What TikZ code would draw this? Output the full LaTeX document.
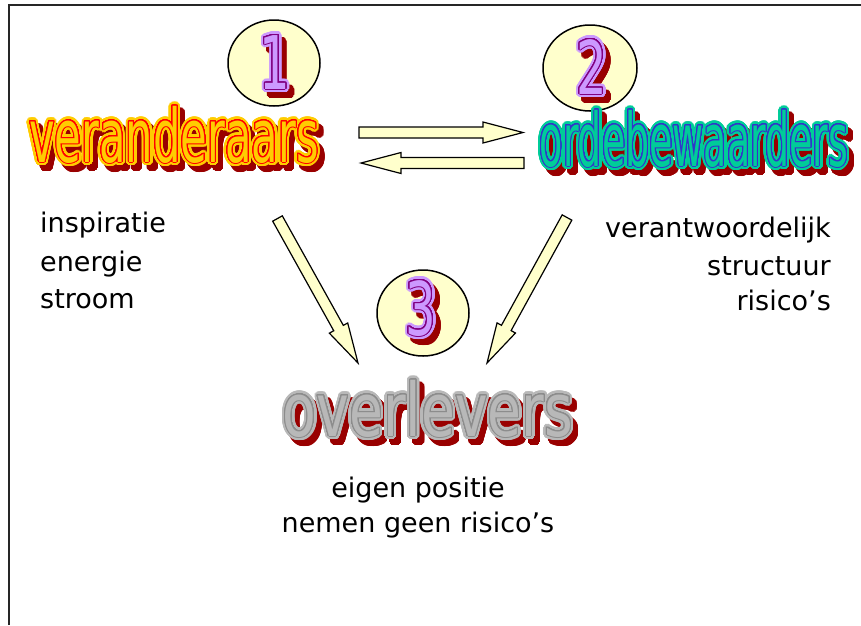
\documentclass[tikz,border=0pt]{standalone}
\usepackage{fontspec}
\setmainfont{DejaVu Sans}
\usepackage[copies]{contour}
\usetikzlibrary{calc}
\definecolor{pale}{HTML}{FFFFCC}
\definecolor{shadowred}{HTML}{990000}
\definecolor{vouter}{HTML}{FFCC00}
\definecolor{vline}{HTML}{FF0000}
\definecolor{oouter}{HTML}{00CC99}
\definecolor{oline}{HTML}{3333CC}
\definecolor{gouter}{HTML}{B8B8B8}
\definecolor{gline}{HTML}{8C8C8C}
\definecolor{pouter}{HTML}{CC99FF}
\definecolor{pline}{HTML}{800080}
\contournumber{32}
\tikzset{
  wa/.style={inner sep=0pt, anchor=base, font=\fontsize{74}{74}\selectfont},
  txt/.style={inner sep=0pt, font=\fontsize{27}{38}\selectfont},
  numcircle/.style={draw=black, line width=1.5pt, fill=pale},
  fatarrow/.style={draw=black, line width=1.2pt, fill=pale, line join=miter},
  frame/.style={draw=black!85, line width=1.6pt}
}
% name, position, xscale, text, outer colour, line colour
\newcommand\wordart[6]{%
  \node[wa, text=shadowred] (#1-s) at ($(#2)+(5,6)$) {\contourlength{3.5pt}\contour{shadowred}{\scalebox{#3}[1]{#4}}};
  \node[wa, text=#5] (#1-o) at (#2) {\contourlength{3.5pt}\contour{#5}{\scalebox{#3}[1]{#4}}};
  \node[wa, text=#5] (#1) at (#2) {\contourlength{1pt}\contour{#6}{\scalebox{#3}[1]{#4}}};
}
\newcommand\fatarrow[2]{%
  \coordinate (hb-#1) at ($(#2)!40pt!(#1)$);
  \filldraw[fatarrow] ($(#1)!5.5pt!90:(#2)$) -- ($(hb-#1)!5.5pt!90:(#2)$)
    -- ($(hb-#1)!10.5pt!90:(#2)$) -- (#2) -- ($(hb-#1)!10.5pt!-90:(#2)$)
    -- ($(hb-#1)!5.5pt!-90:(#2)$) -- ($(#1)!5.5pt!-90:(#2)$) -- cycle;
}
\begin{document}
\begin{tikzpicture}[x=1pt,y=-1pt]
\useasboundingbox (0,0) rectangle (861,625);
\draw[frame] (9,625) -- (9,5) -- (861,5);

% circles
\draw[numcircle] (274,63) ellipse [x radius=46, y radius=43];
\draw[numcircle] (590,68) ellipse [x radius=47, y radius=43];
\draw[numcircle] (423,313) ellipse [x radius=46, y radius=43];

\coordinate (p1) at (275,89);
\coordinate (p2) at (592,94);
\coordinate (p3) at (421,335);
\wordart{n1}{p1}{0.65}{1}{pouter}{pline}
\wordart{n2}{p2}{0.65}{2}{pouter}{pline}
\wordart{n3}{p3}{0.65}{3}{pouter}{pline}

% words
\coordinate (pv) at (174,162);
\coordinate (po) at (694,166);
\coordinate (pov) at (428,436);
\wordart{ver}{pv}{0.585}{veranderaars}{vouter}{vline}
\wordart{orde}{po}{0.513}{ordebewaarders}{oouter}{oline}
\wordart{over}{pov}{0.745}{overlevers}{gouter}{gline}

% arrows
\coordinate (a1s) at (359,132.5);
\coordinate (a1e) at (523,132.5);
\coordinate (a2s) at (524,163);
\coordinate (a2e) at (361,163);
\coordinate (a3s) at (277.5,218.5);
\coordinate (a3e) at (358,363);
\coordinate (a4s) at (567,217.5);
\coordinate (a4e) at (487,363);
\fatarrow{a1s}{a1e}
\fatarrow{a2s}{a2e}
\fatarrow{a3s}{a3e}
\fatarrow{a4s}{a4e}

% labels
\node[txt, anchor=base west] (l1) at (40,232) {inspiratie};
\node[txt, anchor=base west] (l2) at (40,271) {energie};
\node[txt, anchor=base west] (l3) at (40,308) {stroom};
\node[txt, anchor=base east] (r1) at (831,237) {verantwoordelijk};
\node[txt, anchor=base east] (r2) at (831,275) {structuur};
\node[txt, anchor=base east] (r3) at (831,310) {risico’s};
\node[txt, anchor=base] (b1) at (418,497) {eigen positie};
\node[txt, anchor=base] (b2) at (418,532) {nemen geen risico’s};
\end{tikzpicture}
\end{document}
